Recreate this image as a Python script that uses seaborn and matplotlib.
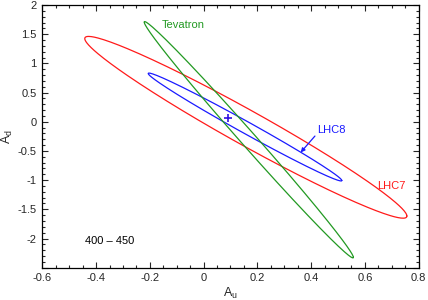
import numpy as np
import pandas as pd
import matplotlib
matplotlib.use("Agg")
import matplotlib.pyplot as plt
from matplotlib.ticker import MultipleLocator
import seaborn as sns

# fit regions: centre, widths and correlation in (A_u, A_d)
names = ["LHC7", "LHC8", "Tevatron"]
center_u = [0.157, 0.154, 0.168]
center_d = [-0.095, -0.090, -0.308]
sigma_u = [0.599, 0.360, 0.389]
sigma_d = [1.557, 0.924, 2.024]
rho = [-0.976, -0.992, -0.9955]
colors = {"LHC7": "#ff1a1a", "LHC8": "#1a1aff", "Tevatron": "#229922"}

# best fit point
best_u = [0.090]
best_d = [0.058]

mass_range = "400 – 450"

t = np.linspace(0, 2 * np.pi, 300)
rows = []
for i, n in enumerate(names):
    x = center_u[i] + sigma_u[i] * np.cos(t)
    y = center_d[i] + sigma_d[i] * (rho[i] * np.cos(t) + np.sqrt(1 - rho[i] ** 2) * np.sin(t))
    rows.append(pd.DataFrame({"A_u": x, "A_d": y, "set": n}))
df = pd.concat(rows, ignore_index=True)

sns.set_style("ticks")
plt.rcParams["font.family"] = ["Liberation Sans", "DejaVu Sans"]

fig = plt.figure(figsize=(4.28, 3.0), dpi=100)
ax = fig.add_axes([0.0988, 0.1077, 0.8795, 0.8756])

for n in names:
    sns.lineplot(data=df[df["set"] == n], x="A_u", y="A_d", sort=False, estimator=None,
                 color=colors[n], linewidth=0.9, ax=ax)

ax.plot(best_u, best_d, marker="+", color="#3010e0", markersize=6, mew=1.2, linestyle="none")

ax.set_xlim(-0.6, 0.8)
ax.set_ylim(-2.5, 2.0)
ax.xaxis.set_major_locator(MultipleLocator(0.2))
ax.xaxis.set_minor_locator(MultipleLocator(0.05))
ax.yaxis.set_major_locator(MultipleLocator(0.5))
ax.yaxis.set_minor_locator(MultipleLocator(0.1))
ax.set_xticklabels([f"{v:g}" for v in ax.get_xticks()])
ax.set_yticklabels(["" if v < -2.2 else f"{v:g}" for v in ax.get_yticks()])
ax.tick_params(which="both", direction="in", top=True, right=True, labelsize=8, pad=4)
ax.tick_params(which="major", length=4.5, width=0.8)
ax.tick_params(which="minor", length=2.5, width=0.8)
for s in ax.spines.values():
    s.set_linewidth(0.9)
    s.set_color("black")

ax.set_xlabel(r"$\mathregular{A_u}$", fontsize=9, labelpad=2)
ax.set_ylabel(r"$\mathregular{A_d}$", fontsize=9, labelpad=2)

ax.text(-0.154, 1.66, "Tevatron", color=colors["Tevatron"], fontsize=8, ha="left", va="center")
ax.text(0.423, -0.134, "LHC8", color=colors["LHC8"], fontsize=8, ha="left", va="center")
ax.text(0.645, -1.10, "LHC7", color=colors["LHC7"], fontsize=8, ha="left", va="center")
ax.text(-0.44, -2.04, mass_range, color="black", fontsize=8, ha="left", va="center")
ax.annotate("", xy=(0.361, -0.525), xytext=(0.414, -0.245),
            arrowprops=dict(arrowstyle="-|>", color=colors["LHC8"], lw=0.9,
                            mutation_scale=6, shrinkA=0, shrinkB=0))

fig.savefig("out.png", dpi=100)
